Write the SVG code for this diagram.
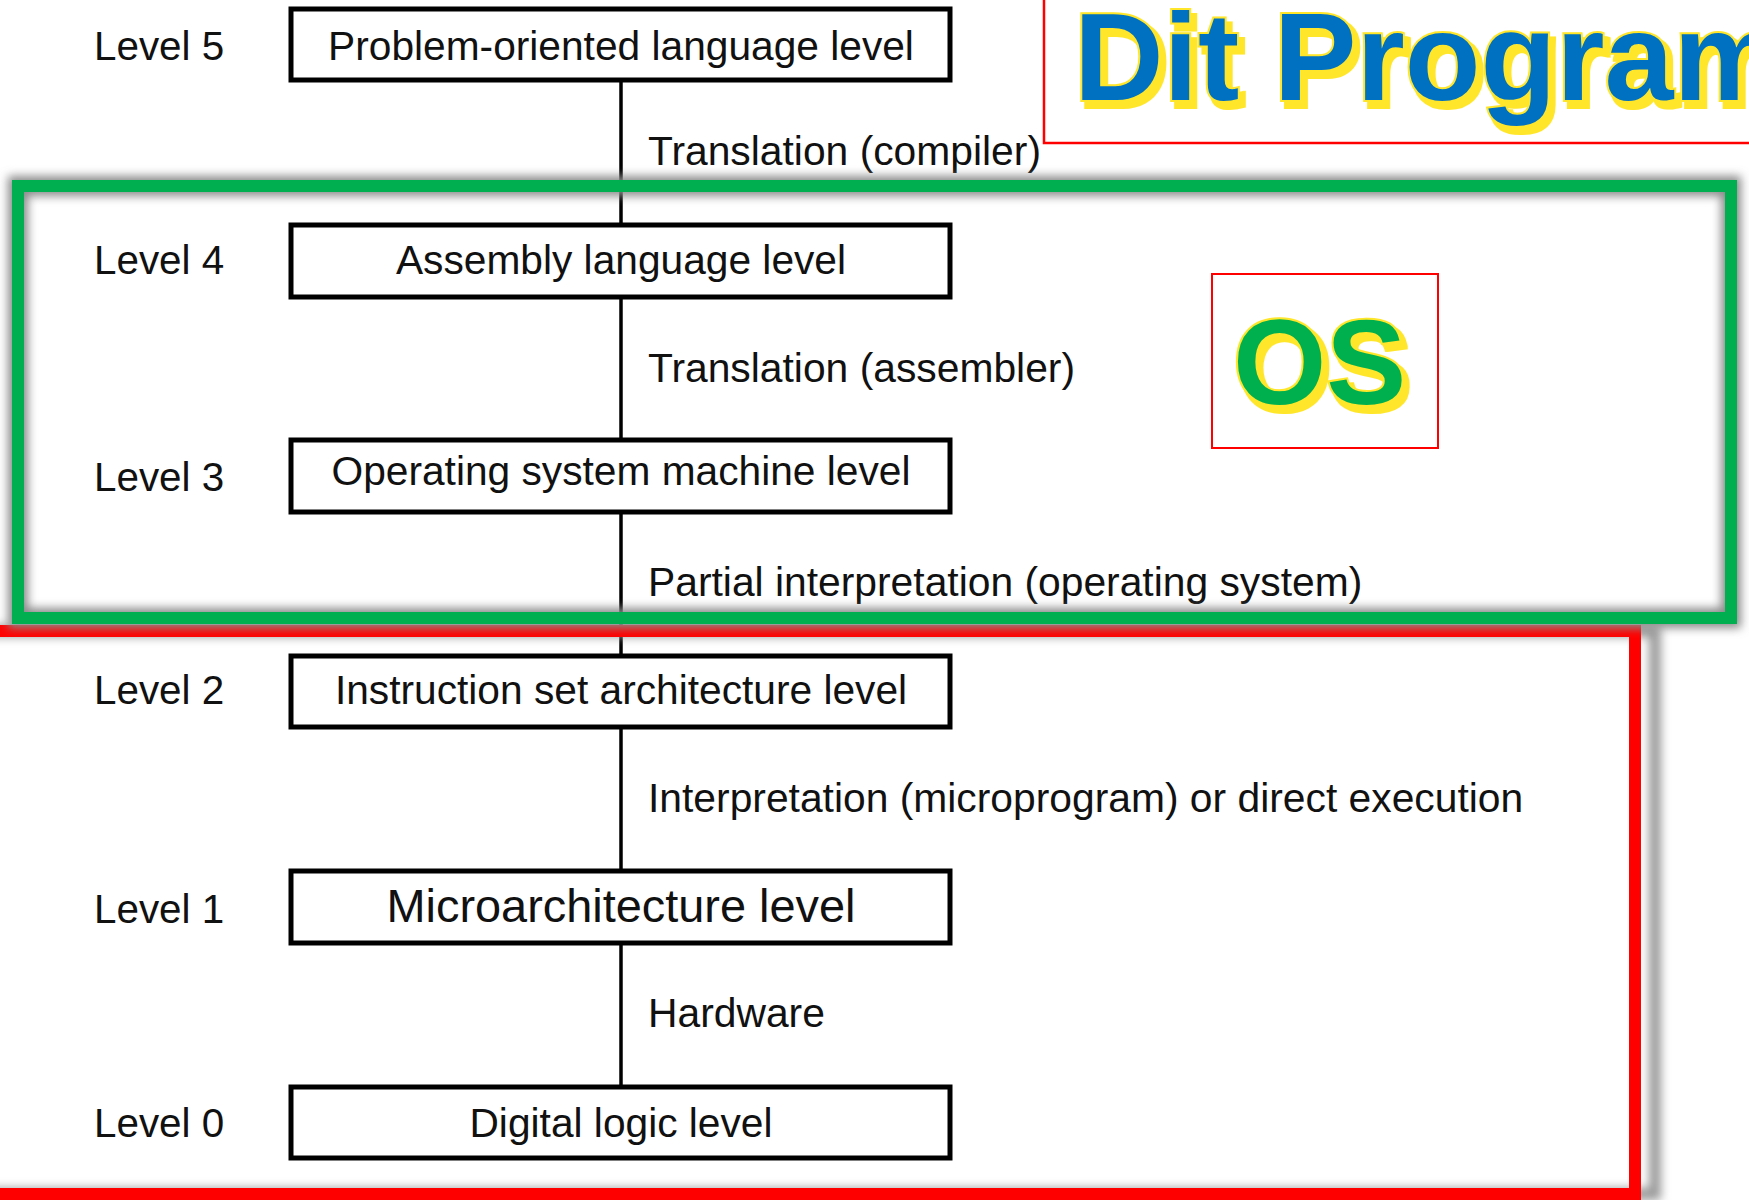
<svg xmlns="http://www.w3.org/2000/svg" width="1749" height="1200" viewBox="0 0 1749 1200">
<defs>
<style>
.box{fill:#fff;stroke:#000;stroke-width:5}
.bt{font-family:"Liberation Sans",Arial,sans-serif;font-size:40.7px;fill:#111;text-anchor:middle}
.lv{font-family:"Liberation Sans",Arial,sans-serif;font-size:40.4px;fill:#111}
.an{font-family:"Liberation Sans",Arial,sans-serif;font-size:40.8px;fill:#111}
.conn{stroke:#000;stroke-width:3.5;fill:none}
.big{font-family:"Liberation Sans",Arial,sans-serif;font-weight:bold;stroke:#ffe629;stroke-width:4;paint-order:stroke;filter:url(#ys)}
</style>
<filter id="blur" x="-5%" y="-10%" width="110%" height="120%"><feGaussianBlur stdDeviation="5"/></filter>
<filter id="ys" x="-10%" y="-20%" width="120%" height="140%">
<feMorphology in="SourceAlpha" operator="dilate" radius="1" result="d"/>
<feOffset in="d" dx="5" dy="6" result="o"/>
<feFlood flood-color="#ffe629"/>
<feComposite in2="o" operator="in" result="s"/>
<feMerge><feMergeNode in="s"/><feMergeNode in="SourceGraphic"/></feMerge>
</filter>
</defs>
<rect width="1749" height="1200" fill="#fff"/>
<g id="connectors">
<line class="conn" x1="621" y1="80" x2="621" y2="225"/>
<line class="conn" x1="621" y1="297" x2="621" y2="440"/>
<line class="conn" x1="621" y1="512" x2="621" y2="656"/>
<line class="conn" x1="621" y1="727" x2="621" y2="871"/>
<line class="conn" x1="621" y1="943" x2="621" y2="1087"/>
<text class="an" x="648" y="165">Translation (compiler)</text>
<text class="an" x="648" y="382">Translation (assembler)</text>
<text class="an" x="648" y="596">Partial interpretation (operating system)</text>
<text class="an" x="648" y="812">Interpretation (microprogram) or direct execution</text>
<text class="an" x="648" y="1027">Hardware</text>
</g>
<g id="level5"><text class="lv" x="94" y="60">Level 5</text><rect class="box" x="291" y="9" width="659" height="71"/><text class="bt" x="621" y="60">Problem-oriented language level</text></g>
<g id="level4"><text class="lv" x="94" y="274">Level 4</text><rect class="box" x="291" y="225" width="659" height="72"/><text class="bt" x="621" y="274">Assembly language level</text></g>
<g id="level3"><text class="lv" x="94" y="491">Level 3</text><rect class="box" x="291" y="440" width="659" height="72"/><text class="bt" x="621" y="485">Operating system machine level</text></g>
<g id="level2"><text class="lv" x="94" y="704">Level 2</text><rect class="box" x="291" y="656" width="659" height="71"/><text class="bt" x="621" y="704">Instruction set architecture level</text></g>
<g id="level1"><text class="lv" x="94" y="923">Level 1</text><rect class="box" x="291" y="871" width="659" height="72"/><text class="bt" x="621" y="922" style="font-size:46.9px">Microarchitecture level</text></g>
<g id="level0"><text class="lv" x="94" y="1137">Level 0</text><rect class="box" x="291" y="1087" width="659" height="71"/><text class="bt" x="621" y="1137">Digital logic level</text></g>
<g id="red-region">
<rect x="-40" y="631" width="1675" height="563" fill="none" stroke="#9a9a9a" stroke-width="12" filter="url(#blur)" transform="translate(20,0)"/>
<rect x="-40" y="631" width="1675" height="563" fill="none" stroke="#ff0000" stroke-width="12"/>
</g>
<g id="os-region">
<rect x="18" y="186" width="1713" height="432" fill="none" stroke="#8a8a8a" stroke-width="20" filter="url(#blur)"/>
<rect x="18" y="186" width="1713" height="432" fill="none" stroke="#00b050" stroke-width="12"/>
</g>
<g id="dit-program">
<rect x="1044" y="-20" width="760" height="163" fill="#fff" stroke="#ff0000" stroke-width="2.5"/>
<text class="big" x="1074" y="100" font-size="124" fill="#0070c0">Dit Program</text>
</g>
<g id="os-label">
<rect x="1212" y="274" width="226" height="174" fill="#fff" stroke="#ff0000" stroke-width="2"/>
<text class="big" x="1233" y="404" font-size="120" fill="#00b050">OS</text>
</g>
</svg>
